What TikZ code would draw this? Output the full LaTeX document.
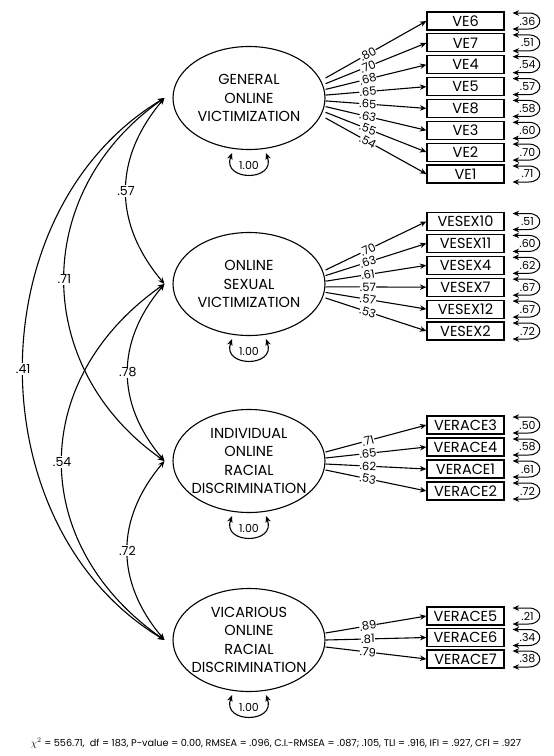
\documentclass[tikz,border=0pt]{standalone}
\usepackage{fontspec}
\setmainfont{Poppins}
\usetikzlibrary{arrows.meta,shapes.geometric}

\begin{document}
\begin{tikzpicture}[
    x=1pt,
    y=-1pt,
    >={Stealth[length=6.5pt,width=5.5pt]},
    line width=1.1pt,
    factor/.style={
      draw,
      ellipse,
      minimum width=152pt,
      minimum height=103pt,
      inner xsep=-10pt,
      inner ysep=0pt,
      align=center,
      font=\fontsize{14.5}{18.5}\selectfont
    },
    item/.style={
      draw,
      rectangle,
      minimum width=77pt,
      minimum height=18pt,
      inner sep=0pt,
      font=\fontsize{14.5}{14.5}\selectfont
    },
    load/.style={->},
    loadlbl/.style={sloped, pos=0.42, fill=white, inner sep=0.2pt, font=\fontsize{11.5}{11.5}\selectfont},
    corr/.style={<->},
    corrlbl/.style={fill=white, inner sep=1pt, font=\fontsize{12.5}{12.5}\selectfont},
    err/.style={<->, line width=1pt},
    errlbl/.style={inner sep=0pt, font=\fontsize{11}{11}\selectfont},
    var/.style={<->},
    varlbl/.style={inner sep=0pt, font=\fontsize{11}{11}\selectfont}
  ]
    \useasboundingbox (0, 0) rectangle (554, 756);

    % latent factors
    \node[factor] (gov) at (249, 98) {GENERAL\\ONLINE\\VICTIMIZATION};
    \node[factor] (osv) at (249, 284) {ONLINE\\SEXUAL\\VICTIMIZATION};
    \node[factor] (iord) at (249, 461) {INDIVIDUAL\\ONLINE\\RACIAL\\DISCRIMINATION};
    \node[factor] (vord) at (249, 640) {VICARIOUS\\ONLINE\\RACIAL\\DISCRIMINATION};

    \coordinate (gov_w) at ([xshift=-8pt]gov.west);
    \coordinate (osv_w) at ([xshift=-8pt]osv.west);
    \coordinate (iord_w) at ([xshift=-8pt]iord.west);
    \coordinate (vord_w) at ([xshift=-8pt]vord.west);

    % indicators
    \node[item] (ve6) at (465.5, 21) {VE6};
    \node[item] (ve7) at (465.5, 42.9) {VE7};
    \node[item] (ve4) at (465.5, 64.7) {VE4};
    \node[item] (ve5) at (465.5, 86.6) {VE5};
    \node[item] (ve8) at (465.5, 108.4) {VE8};
    \node[item] (ve3) at (465.5, 130.3) {VE3};
    \node[item] (ve2) at (465.5, 152.1) {VE2};
    \node[item] (ve1) at (465.5, 174) {VE1};
    \node[item] (vesex10) at (465.5, 221.5) {VESEX10};
    \node[item] (vesex11) at (465.5, 243.4) {VESEX11};
    \node[item] (vesex4) at (465.5, 265.3) {VESEX4};
    \node[item] (vesex7) at (465.5, 287.2) {VESEX7};
    \node[item] (vesex12) at (465.5, 309.1) {VESEX12};
    \node[item] (vesex2) at (465.5, 331) {VESEX2};
    \node[item] (verace3) at (465.5, 425) {VERACE3};
    \node[item] (verace4) at (465.5, 447) {VERACE4};
    \node[item] (verace1) at (465.5, 469) {VERACE1};
    \node[item] (verace2) at (465.5, 491) {VERACE2};
    \node[item] (verace5) at (465.5, 616) {VERACE5};
    \node[item] (verace6) at (465.5, 637.5) {VERACE6};
    \node[item] (verace7) at (465.5, 659) {VERACE7};

    % loadings
    \draw[load] ([yshift=20pt]gov.east) -- node[loadlbl] (l_ve6) {.80} (ve6.west);
    \draw[load] ([yshift=14.3pt]gov.east) -- node[loadlbl] (l_ve7) {.70} (ve7.west);
    \draw[load] ([yshift=8.6pt]gov.east) -- node[loadlbl] (l_ve4) {.68} (ve4.west);
    \draw[load] ([yshift=2.9pt]gov.east) -- node[loadlbl] (l_ve5) {.65} (ve5.west);
    \draw[load] ([yshift=-2.9pt]gov.east) -- node[loadlbl] (l_ve8) {.65} (ve8.west);
    \draw[load] ([yshift=-8.6pt]gov.east) -- node[loadlbl] (l_ve3) {.63} (ve3.west);
    \draw[load] ([yshift=-14.3pt]gov.east) -- node[loadlbl] (l_ve2) {.55} (ve2.west);
    \draw[load] ([yshift=-20pt]gov.east) -- node[loadlbl] (l_ve1) {.54} (ve1.west);
    \draw[load] ([yshift=14pt]osv.east) -- node[loadlbl] (l_vesex10) {.70} (vesex10.west);
    \draw[load] ([yshift=8.4pt]osv.east) -- node[loadlbl] (l_vesex11) {.63} (vesex11.west);
    \draw[load] ([yshift=2.8pt]osv.east) -- node[loadlbl] (l_vesex4) {.61} (vesex4.west);
    \draw[load] ([yshift=-2.8pt]osv.east) -- node[loadlbl] (l_vesex7) {.57} (vesex7.west);
    \draw[load] ([yshift=-8.4pt]osv.east) -- node[loadlbl] (l_vesex12) {.57} (vesex12.west);
    \draw[load] ([yshift=-14pt]osv.east) -- node[loadlbl] (l_vesex2) {.53} (vesex2.west);
    \draw[load] ([yshift=9pt]iord.east) -- node[loadlbl] (l_verace3) {.71} (verace3.west);
    \draw[load] ([yshift=3pt]iord.east) -- node[loadlbl] (l_verace4) {.65} (verace4.west);
    \draw[load] ([yshift=-3pt]iord.east) -- node[loadlbl] (l_verace1) {.62} (verace1.west);
    \draw[load] ([yshift=-9pt]iord.east) -- node[loadlbl] (l_verace2) {.53} (verace2.west);
    \draw[load] ([yshift=7pt]vord.east) -- node[loadlbl] (l_verace5) {.89} (verace5.west);
    \draw[load] (vord.east) -- node[loadlbl] (l_verace6) {.81} (verace6.west);
    \draw[load] ([yshift=-7pt]vord.east) -- node[loadlbl] (l_verace7) {.79} (verace7.west);

    % residuals
    \draw[err] ([xshift=8pt,yshift=8pt]ve6.east) -- ++(16,0) to[out=0,in=0,looseness=2.4] ++(0,16) -- ++(-16,0);
    \draw[err] ([xshift=8pt,yshift=8pt]ve7.east) -- ++(16,0) to[out=0,in=0,looseness=2.4] ++(0,16) -- ++(-16,0);
    \draw[err] ([xshift=8pt,yshift=8pt]ve4.east) -- ++(16,0) to[out=0,in=0,looseness=2.4] ++(0,16) -- ++(-16,0);
    \draw[err] ([xshift=8pt,yshift=8pt]ve5.east) -- ++(16,0) to[out=0,in=0,looseness=2.4] ++(0,16) -- ++(-16,0);
    \draw[err] ([xshift=8pt,yshift=8pt]ve8.east) -- ++(16,0) to[out=0,in=0,looseness=2.4] ++(0,16) -- ++(-16,0);
    \draw[err] ([xshift=8pt,yshift=8pt]ve3.east) -- ++(16,0) to[out=0,in=0,looseness=2.4] ++(0,16) -- ++(-16,0);
    \draw[err] ([xshift=8pt,yshift=8pt]ve2.east) -- ++(16,0) to[out=0,in=0,looseness=2.4] ++(0,16) -- ++(-16,0);
    \draw[err] ([xshift=8pt,yshift=8pt]ve1.east) -- ++(16,0) to[out=0,in=0,looseness=2.4] ++(0,16) -- ++(-16,0);
    \draw[err] ([xshift=8pt,yshift=8pt]vesex10.east) -- ++(16,0) to[out=0,in=0,looseness=2.4] ++(0,16) -- ++(-16,0);
    \draw[err] ([xshift=8pt,yshift=8pt]vesex11.east) -- ++(16,0) to[out=0,in=0,looseness=2.4] ++(0,16) -- ++(-16,0);
    \draw[err] ([xshift=8pt,yshift=8pt]vesex4.east) -- ++(16,0) to[out=0,in=0,looseness=2.4] ++(0,16) -- ++(-16,0);
    \draw[err] ([xshift=8pt,yshift=8pt]vesex7.east) -- ++(16,0) to[out=0,in=0,looseness=2.4] ++(0,16) -- ++(-16,0);
    \draw[err] ([xshift=8pt,yshift=8pt]vesex12.east) -- ++(16,0) to[out=0,in=0,looseness=2.4] ++(0,16) -- ++(-16,0);
    \draw[err] ([xshift=8pt,yshift=8pt]vesex2.east) -- ++(16,0) to[out=0,in=0,looseness=2.4] ++(0,16) -- ++(-16,0);
    \draw[err] ([xshift=8pt,yshift=8pt]verace3.east) -- ++(16,0) to[out=0,in=0,looseness=2.4] ++(0,16) -- ++(-16,0);
    \draw[err] ([xshift=8pt,yshift=8pt]verace4.east) -- ++(16,0) to[out=0,in=0,looseness=2.4] ++(0,16) -- ++(-16,0);
    \draw[err] ([xshift=8pt,yshift=8pt]verace1.east) -- ++(16,0) to[out=0,in=0,looseness=2.4] ++(0,16) -- ++(-16,0);
    \draw[err] ([xshift=8pt,yshift=8pt]verace2.east) -- ++(16,0) to[out=0,in=0,looseness=2.4] ++(0,16) -- ++(-16,0);
    \draw[err] ([xshift=8pt,yshift=8pt]verace5.east) -- ++(16,0) to[out=0,in=0,looseness=2.4] ++(0,16) -- ++(-16,0);
    \draw[err] ([xshift=8pt,yshift=8pt]verace6.east) -- ++(16,0) to[out=0,in=0,looseness=2.4] ++(0,16) -- ++(-16,0);
    \draw[err] ([xshift=8pt,yshift=8pt]verace7.east) -- ++(16,0) to[out=0,in=0,looseness=2.4] ++(0,16) -- ++(-16,0);

    \node[errlbl] (e_ve6) at ([xshift=23pt]ve6.east) {.36};
    \node[errlbl] (e_ve7) at ([xshift=23pt]ve7.east) {.51};
    \node[errlbl] (e_ve4) at ([xshift=23pt]ve4.east) {.54};
    \node[errlbl] (e_ve5) at ([xshift=23pt]ve5.east) {.57};
    \node[errlbl] (e_ve8) at ([xshift=23pt]ve8.east) {.58};
    \node[errlbl] (e_ve3) at ([xshift=23pt]ve3.east) {.60};
    \node[errlbl] (e_ve2) at ([xshift=23pt]ve2.east) {.70};
    \node[errlbl] (e_ve1) at ([xshift=23pt]ve1.east) {.71};
    \node[errlbl] (e_vesex10) at ([xshift=23pt]vesex10.east) {.51};
    \node[errlbl] (e_vesex11) at ([xshift=23pt]vesex11.east) {.60};
    \node[errlbl] (e_vesex4) at ([xshift=23pt]vesex4.east) {.62};
    \node[errlbl] (e_vesex7) at ([xshift=23pt]vesex7.east) {.67};
    \node[errlbl] (e_vesex12) at ([xshift=23pt]vesex12.east) {.67};
    \node[errlbl] (e_vesex2) at ([xshift=23pt]vesex2.east) {.72};
    \node[errlbl] (e_verace3) at ([xshift=23pt]verace3.east) {.50};
    \node[errlbl] (e_verace4) at ([xshift=23pt]verace4.east) {.58};
    \node[errlbl] (e_verace1) at ([xshift=23pt]verace1.east) {.61};
    \node[errlbl] (e_verace2) at ([xshift=23pt]verace2.east) {.72};
    \node[errlbl] (e_verace5) at ([xshift=23pt]verace5.east) {.21};
    \node[errlbl] (e_verace6) at ([xshift=23pt]verace6.east) {.34};
    \node[errlbl] (e_verace7) at ([xshift=23pt]verace7.east) {.38};

    % factor variances
    \draw[var] ([xshift=-17pt,yshift=-3pt]gov.south) to[out=-110,in=-70,looseness=2.3] ([xshift=17pt,yshift=-3pt]gov.south);
    \draw[var] ([xshift=-17pt,yshift=-3pt]osv.south) to[out=-110,in=-70,looseness=2.3] ([xshift=17pt,yshift=-3pt]osv.south);
    \draw[var] ([xshift=-17pt,yshift=-3pt]iord.south) to[out=-110,in=-70,looseness=2.3] ([xshift=17pt,yshift=-3pt]iord.south);
    \draw[var] ([xshift=-17pt,yshift=-3pt]vord.south) to[out=-110,in=-70,looseness=2.3] ([xshift=17pt,yshift=-3pt]vord.south);
    \node[varlbl] (v_gov) at ([yshift=-15pt]gov.south) {1.00};
    \node[varlbl] (v_osv) at ([yshift=-15pt]osv.south) {1.00};
    \node[varlbl] (v_iord) at ([yshift=-15pt]iord.south) {1.00};
    \node[varlbl] (v_vord) at ([yshift=-15pt]vord.south) {1.00};

    % factor correlations
    \draw[corr] (gov_w) to[bend right=40, looseness=1.1] node[corrlbl] (c_gov_osv) {.57} (osv_w);
    \draw[corr] (osv_w) to[bend right=40, looseness=1.1] node[corrlbl] (c_osv_iord) {.78} (iord_w);
    \draw[corr] (iord_w) to[bend right=40, looseness=1.1] node[corrlbl] (c_iord_vord) {.72} (vord_w);
    \draw[corr] (gov_w) to[bend right=55, looseness=1.15] node[corrlbl] (c_gov_iord) {.71} (iord_w);
    \draw[corr] (osv_w) to[bend right=55, looseness=1.2] node[corrlbl] (c_osv_vord) {.54} (vord_w);
    \draw[corr] (gov_w) to[bend right=59, looseness=1.04] node[corrlbl] (c_gov_vord) {.41} (vord_w);

    % fit indices
    \node[inner sep=0pt, font=\fontsize{9.7}{9.7}\selectfont] (fit) at (276, 743)
      {$\chi^2$ = 556.71,\ \ df = 183, P-value = 0.00, RMSEA = .096, C.I.-RMSEA = .087; .105, TLI = .916, IFI = .927, CFI = .927};

  \end{tikzpicture}
\end{document}
